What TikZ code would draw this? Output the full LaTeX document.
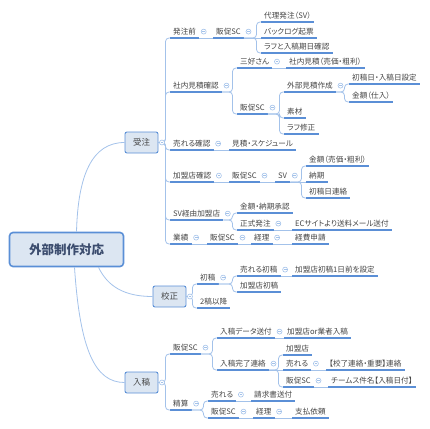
\documentclass[tikz,border=0pt]{standalone}
\usepackage{fontspec}
\setmainfont[RawFeature=+palt]{Noto Sans CJK JP}
\usetikzlibrary{calc}
\definecolor{uline}{HTML}{5B8FD6}
\definecolor{conn}{HTML}{A3C2EA}
\definecolor{boxfill}{HTML}{DCE6F2}
\definecolor{boxline}{HTML}{5A8FD6}
\definecolor{txt}{HTML}{454545}
\definecolor{roottxt}{HTML}{3B4C6E}
\tikzset{
  tp/.style={anchor=south west, inner xsep=3pt, inner ysep=2.3pt, text height=6.2pt, text depth=1.2pt,
     font=\fontsize{7.6}{8.5}\selectfont, text=txt,
     append after command={(\tikzlastnode.south west) edge[draw=uline, line width=1.1pt] (\tikzlastnode.south east)}},
  mainbox/.style={draw=boxline, fill=boxfill, line width=0.9pt, rounded corners=2pt, minimum width=33pt,
     minimum height=21pt, inner sep=0pt, font=\fontsize{8.5}{9}\selectfont, text=txt},
  rootbox/.style={draw=boxline, fill=boxfill, line width=1.6pt, rounded corners=3.5pt, minimum width=114pt,
     minimum height=34pt, inner sep=0pt, font=\fontsize{12.5}{13}\selectfont\bfseries, text=roottxt},
  link/.style={draw=conn, line width=0.8pt, rounded corners=3.5pt},
  rootlink/.style={draw=conn, line width=0.8pt},
  coll/.style={circle, draw=conn, fill=white, line width=0.6pt, minimum size=5pt, inner sep=0pt,
     path picture={\draw[conn, line width=0.6pt] ([xshift=-1.4pt]path picture bounding box.center) -- ([xshift=1.4pt]path picture bounding box.center);}},
}
\newcommand\mmlink[2]{\draw[link] (#1) -| ([xshift=-4.5pt]#2.south west) -- (#2.south west);}
\newcommand\mmline[2]{\draw[link] (#1) -- (#2.south west);}
\newcommand\mmcoll[1]{\node[coll] (c-#1) at ([xshift=4.5pt,yshift=6.4pt]#1.south east) {};}
\newcommand\mmboxcoll[1]{\node[coll] (c-#1) at ([xshift=3.5pt]#1.east) {};}
\begin{document}
\begin{tikzpicture}[x=1pt,y=-1pt]
\useasboundingbox (0,0) rectangle (430,428);
% main boxes
\node[rootbox] (root) at (66.5,249.5) {外部制作対応};
\node[mainbox] (shou) at (141.5,142.5) {受注};
\node[mainbox] (kou) at (169.5,296.5) {校正};
\node[mainbox] (nyu) at (141.5,382.5) {入稿};
% 受注
\node[tp] (a1) at (170,38) {発注前};
\node[tp] (a1a) at (213,38) {販促SC};
\node[tp] (a1a1) at (261,22) {代理発注（SV）};
\node[tp] (a1a2) at (261,38) {バックログ起票};
\node[tp] (a1a3) at (261,53) {ラフと入稿期日確認};
\node[tp] (a2) at (170,92) {社内見積確認};
\node[tp] (a2a) at (237,68) {三好さん};
\node[tp] (a2a1) at (286,68) {社内見積（売価・粗利）};
\node[tp] (a2b) at (237,114) {販促SC};
\node[tp] (a2b1) at (284,92) {外部見積作成};
\node[tp] (a2b1a) at (349,84) {初稿日・入稿日設定};
\node[tp] (a2b1b) at (349,102) {金額（仕入）};
\node[tp] (a2b2) at (284,118) {素材};
\node[tp] (a2b3) at (284,134) {ラフ修正};
\node[tp] (a3) at (170,150) {売れる確認};
\node[tp] (a3a) at (229,150) {見積・スケジュール};
\node[tp] (a4) at (170,182) {加盟店確認};
\node[tp] (a4a) at (229,182) {販促SC};
\node[tp] (a4b) at (275,182) {SV};
\node[tp] (a4b1) at (306,166) {金額（売価・粗利）};
\node[tp] (a4b2) at (306,182) {納期};
\node[tp] (a4b3) at (306,198) {初稿日連絡};
\node[tp] (a5) at (170,220) {SV経由加盟店};
\node[tp] (a5a) at (237,213) {金額・納期承認};
\node[tp] (a5b) at (237,230) {正式発注};
\node[tp] (a5b1) at (292,230) {ECサイトより送料メール送付};
\node[tp] (a6) at (170,244) {業績};
\node[tp] (a6a) at (207,244) {販促SC};
\node[tp] (a6b) at (251,244) {経理};
\node[tp] (a6c) at (292,244) {経費申請};
% 校正
\node[tp] (b1) at (197,284) {初稿};
\node[tp] (b1a) at (237,276) {売れる初稿};
\node[tp] (b1a1) at (292,276) {加盟店初稿1日前を設定};
\node[tp] (b1b) at (237,292) {加盟店初稿};
\node[tp] (b2) at (197,308) {2稿以降};
% 入稿
\node[tp] (c1) at (170,354) {販促SC};
\node[tp] (c1a) at (217,338) {入稿データ送付};
\node[tp] (c1a1) at (284,338) {加盟店or業者入稿};
\node[tp] (c1b) at (217,370) {入稿完了連絡};
\node[tp] (c1b1) at (283,355) {加盟店};
\node[tp] (c1b2) at (283,370) {売れる};
\node[tp] (c1b2a) at (326,370) {【校了連絡・重要】連絡};
\node[tp] (c1b3) at (283,387) {販促SC};
\node[tp] (c1b3a) at (328,387) {チームス件名【入稿日付】};
\node[tp] (c2) at (170,410) {精算};
\node[tp] (c2a) at (208,401) {売れる};
\node[tp] (c2a1) at (251,401) {請求書送付};
\node[tp] (c2b) at (208,418) {販促SC};
\node[tp] (c2b1) at (253,418) {経理};
\node[tp] (c2b2) at (292,418) {支払依頼};
% root links
\draw[rootlink] ([xshift=10pt]root.north) .. controls (78,175) and (92,142.5) .. (shou.west);
\draw[rootlink] ([xshift=32pt]root.south) .. controls (108,287) and (125,296.5) .. (kou.west);
\draw[rootlink] ([xshift=8pt]root.south) .. controls (80,350) and (95,382.5) .. (nyu.west);
% links
\mmlink{shou.east}{a1}
\mmlink{shou.east}{a2}
\mmlink{shou.east}{a3}
\mmlink{shou.east}{a4}
\mmlink{shou.east}{a5}
\mmlink{shou.east}{a6}
\mmline{a1.south east}{a1a}
\mmlink{a1a.south east}{a1a1}
\mmline{a1a.south east}{a1a2}
\mmlink{a1a.south east}{a1a3}
\mmlink{a2.south east}{a2a}
\mmlink{a2.south east}{a2b}
\mmline{a2a.south east}{a2a1}
\mmlink{a2b.south east}{a2b1}
\mmlink{a2b.south east}{a2b2}
\mmlink{a2b.south east}{a2b3}
\mmlink{a2b1.south east}{a2b1a}
\mmlink{a2b1.south east}{a2b1b}
\mmline{a3.south east}{a3a}
\mmline{a4.south east}{a4a}
\mmline{a4a.south east}{a4b}
\mmlink{a4b.south east}{a4b1}
\mmline{a4b.south east}{a4b2}
\mmlink{a4b.south east}{a4b3}
\mmlink{a5.south east}{a5a}
\mmlink{a5.south east}{a5b}
\mmline{a5b.south east}{a5b1}
\mmline{a6.south east}{a6a}
\mmline{a6a.south east}{a6b}
\mmline{a6b.south east}{a6c}
\mmlink{kou.east}{b1}
\mmlink{kou.east}{b2}
\mmlink{b1.south east}{b1a}
\mmlink{b1.south east}{b1b}
\mmline{b1a.south east}{b1a1}
\mmlink{nyu.east}{c1}
\mmlink{nyu.east}{c2}
\mmlink{c1.south east}{c1a}
\mmlink{c1.south east}{c1b}
\mmline{c1a.south east}{c1a1}
\mmlink{c1b.south east}{c1b1}
\mmline{c1b.south east}{c1b2}
\mmlink{c1b.south east}{c1b3}
\mmline{c1b2.south east}{c1b2a}
\mmline{c1b3.south east}{c1b3a}
\mmlink{c2.south east}{c2a}
\mmlink{c2.south east}{c2b}
\mmline{c2a.south east}{c2a1}
\mmline{c2b.south east}{c2b1}
\mmline{c2b1.south east}{c2b2}
% collapse icons
\mmboxcoll{shou}
\mmboxcoll{kou}
\mmboxcoll{nyu}
\foreach \n in {a1,a1a,a2,a2a,a2b,a2b1,a3,a4,a4a,a4b,a5,a5b,a6,a6a,a6b,b1,b1a,c1,c1a,c1b,c1b2,c1b3,c2,c2a,c2b,c2b1}{\mmcoll{\n}}
\end{tikzpicture}
\end{document}
